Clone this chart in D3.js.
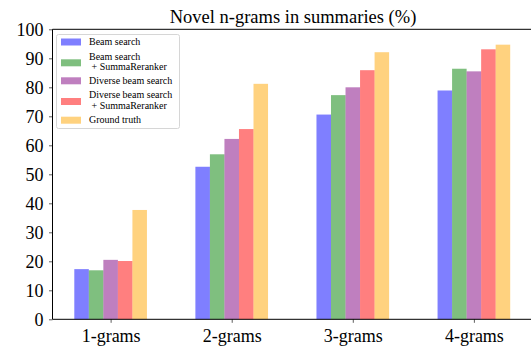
<!DOCTYPE html>
<html>
<head>
<meta charset="utf-8">
<script src="https://cdn.jsdelivr.net/npm/d3@7"></script>
<style>
  html, body { margin: 0; padding: 0; background: #fff; }
</style>
</head>
<body>
<svg id="chart" width="531" height="353"></svg>
<script>
// Percentage of novel n-grams in generated summaries, per decoding method
const categories = ["1-grams", "2-grams", "3-grams", "4-grams"];
const seriesNames = [
  ["Beam search"],
  ["Beam search", " + SummaReranker"],
  ["Diverse beam search"],
  ["Diverse beam search", " + SummaReranker"],
  ["Ground truth"]
];
const seriesColors = ["#0000ff", "#008000", "#800080", "#ff0000", "#ffa500"];
const beamSearch        = [17.3, 52.6, 70.6, 78.9];
const beamRerank        = [16.9, 56.9, 77.3, 86.4];
const diverseBeam       = [20.5, 62.2, 80.0, 85.5];
const diverseBeamRerank = [20.1, 65.6, 85.9, 93.1];
const groundTruth       = [37.7, 81.2, 92.1, 94.7];
const seriesValues = [beamSearch, beamRerank, diverseBeam, diverseBeamRerank, groundTruth];
const yTicks = [0, 10, 20, 30, 40, 50, 60, 70, 80, 90, 100];

const FONT = "'Liberation Serif', 'Times New Roman', serif";
const barW = 0.12;
const svg = d3.select("#chart");
const plotL = 52.5, plotR = 532, plotT = 29.3, plotB = 319.3;

const x = d3.scaleLinear().domain([-0.48, 3.48]).range([plotL, plotR]);
const y = d3.scaleLinear().domain([0, 100]).range([plotB, plotT]);

// bars
seriesValues.forEach((vals, s) => {
  svg.append("g").selectAll("rect").data(vals).join("rect")
    .attr("x", (d, i) => x(i + (s - 2) * barW - barW / 2))
    .attr("width", x(barW) - x(0))
    .attr("y", d => y(d))
    .attr("height", d => y(0) - y(d))
    .attr("fill", seriesColors[s])
    .attr("fill-opacity", 0.5);
});

// y axis
const yAxis = svg.append("g").attr("transform", `translate(${plotL},0)`)
  .call(d3.axisLeft(y).tickValues(yTicks).tickSize(3.5).tickPadding(5.5).tickFormat(d3.format("d")));
yAxis.attr("font-family", FONT).attr("font-size", 18);
yAxis.select(".domain").remove();
yAxis.selectAll(".tick line").attr("stroke", "#333").attr("stroke-width", 0.8);
yAxis.selectAll(".tick text").attr("fill", "#000");

// x axis
const xAxis = svg.append("g").attr("transform", `translate(0,${plotB})`)
  .call(d3.axisBottom(x).tickValues(d3.range(categories.length)).tickSize(3.5).tickPadding(6)
    .tickFormat(i => categories[i]));
xAxis.attr("font-family", FONT).attr("font-size", 18);
xAxis.select(".domain").remove();
xAxis.selectAll(".tick line").attr("stroke", "#333").attr("stroke-width", 0.8);
xAxis.selectAll(".tick text").attr("fill", "#000");

// spines
const spine = (x1, y1, x2, y2) => svg.append("line")
  .attr("x1", x1).attr("y1", y1).attr("x2", x2).attr("y2", y2)
  .attr("stroke", "#000").attr("stroke-width", 1);
spine(plotL, plotT, plotL, plotB);
spine(plotL, plotB, plotR, plotB);
spine(plotL, plotT, plotR, plotT);
spine(plotR, plotT, plotR, plotB);

// title
svg.append("text")
  .attr("x", 293).attr("y", 22.5)
  .attr("text-anchor", "middle").attr("font-family", FONT).attr("font-size", 18.5)
  .text("Novel n-grams in summaries (%)");

// legend
const lg = svg.append("g");
lg.append("rect").attr("x", 56.5).attr("y", 34.5).attr("width", 123).attr("height", 94)
  .attr("rx", 2).attr("fill", "#fff").attr("fill-opacity", 0.8)
  .attr("stroke", "#d6d6d6").attr("stroke-width", 1);
const patchY = [41.5, 62.3, 80.3, 101, 119.7];
const textY = [[45], [59.5, 69.8], [83.6], [98.4, 108.7], [122.8]];
seriesNames.forEach((lines, s) => {
  lg.append("rect").attr("x", 61).attr("y", patchY[s] - 3).attr("width", 20).attr("height", 7)
    .attr("fill", seriesColors[s]).attr("fill-opacity", 0.5);
  lines.forEach((t, k) => {
    lg.append("text").attr("x", 89).attr("y", textY[s][k])
      .attr("font-family", FONT).attr("font-size", 10)
      .style("white-space", "pre").text(t);
  });
});
</script>
</body>
</html>
